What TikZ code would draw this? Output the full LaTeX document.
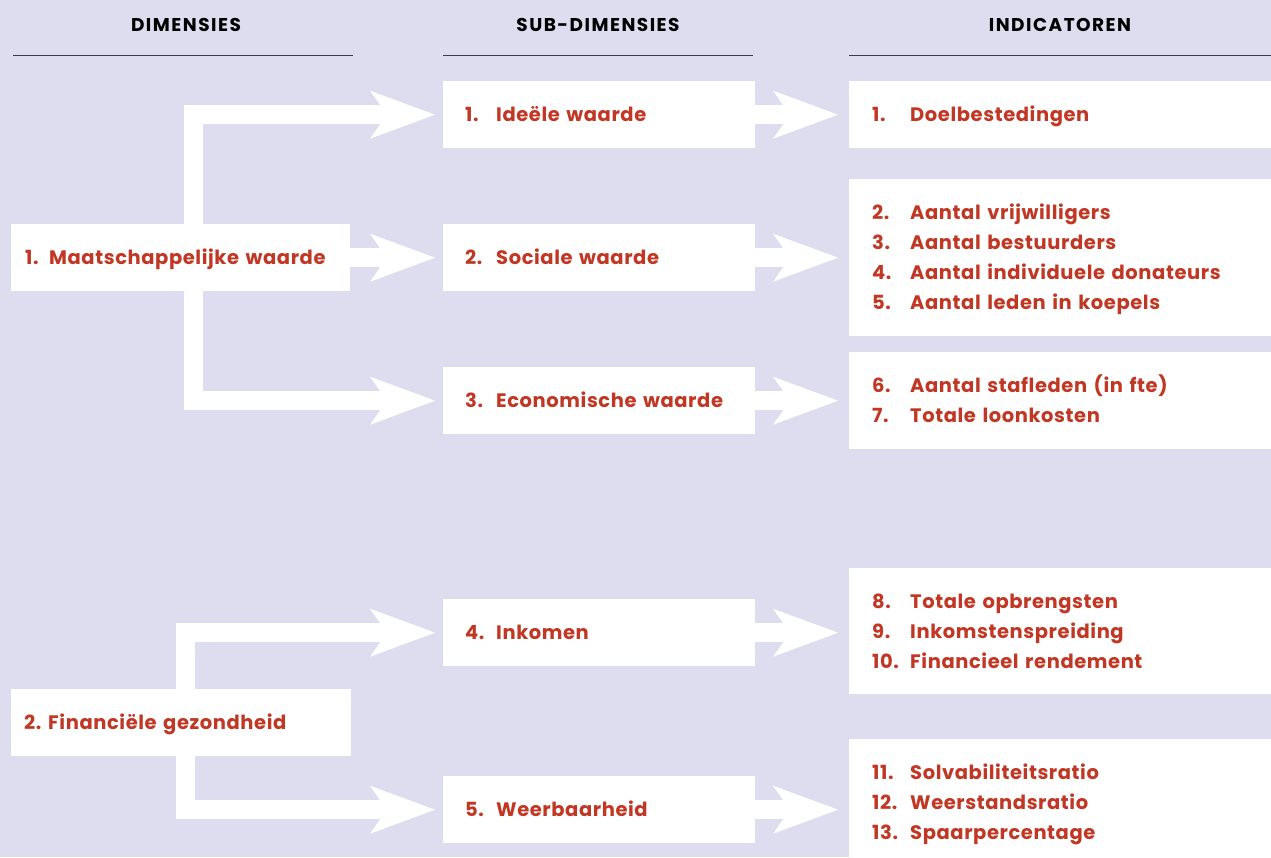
\documentclass[tikz,border=0pt]{standalone}
\usepackage{fontspec}
\setmainfont{Poppins}[LetterSpace=3]
\usetikzlibrary{arrows.meta}
\definecolor{bgc}{RGB}{222,221,240}
\definecolor{txt}{RGB}{193,55,35}
\definecolor{rule}{RGB}{60,60,70}
\pgfdeclarelayer{bg}
\pgfsetlayers{bg,main}
\newcommand\itm[3]{\raisebox{0pt}[14pt][0pt]{\makebox[#1][l]{#2}#3}}
\tikzset{
  box/.style={fill=white, anchor=north west, align=left, text=txt, inner ysep=0pt,
    font=\bfseries\fontsize{19.5}{30}\selectfont},
  dimbox/.style={box, inner xsep=14pt, text width=311pt, minimum height=67pt},
  subbox/.style={box, inner xsep=22pt, text width=268pt, minimum height=67pt},
  indbox/.style={box, inner xsep=23pt, text width=386pt},
  head/.style={font=\bfseries\fontsize{18.5}{20}\selectfont\addfontfeatures{LetterSpace=8}, text=black, anchor=center},
  hrule/.style={draw=rule, line width=1pt},
  fat/.style={draw=white, line width=19pt, line join=miter,
    -{Stealth[length=65pt,width=48pt,inset=17pt,line width=0pt]}},
}
\begin{document}
\begin{tikzpicture}[x=1pt,y=-1pt]
\useasboundingbox (0,0) rectangle (1271,857);
\begin{pgfonlayer}{bg}
\fill[bgc] (0,0) rectangle (1271,857);
\end{pgfonlayer}
% headers
\node[head] (h1) at (186,25) {DIMENSIES};
\node[head] (h2) at (598,25) {SUB-DIMENSIES};
\node[head] (h3) at (1060,25) {INDICATOREN};
\coordinate (l1a) at (13,55); \coordinate (l1b) at (353,55);
\coordinate (l2a) at (443,55); \coordinate (l2b) at (753,55);
\coordinate (l3a) at (849,55); \coordinate (l3b) at (1271,55);
\draw[hrule] (l1a) -- (l1b);
\draw[hrule] (l2a) -- (l2b);
\draw[hrule] (l3a) -- (l3b);
% dimension boxes
\node[dimbox] (d1) at (11,224) {\itm{24pt}{1.}{Maatschappelijke waarde}};
\node[dimbox, inner xsep=13pt, text width=314pt] (d2) at (11,689) {\itm{24pt}{2.}{Financiële gezondheid}};
% sub-dimension boxes
\node[subbox] (s1) at (443,81) {\itm{31pt}{1.}{Ideële waarde}};
\node[subbox] (s2) at (443,224) {\itm{31pt}{2.}{Sociale waarde}};
\node[subbox] (s3) at (443,367) {\itm{31pt}{3.}{Economische waarde}};
\node[subbox] (s4) at (443,599) {\itm{31pt}{4.}{Inkomen}};
\node[subbox] (s5) at (443,776) {\itm{31pt}{5.}{Weerbaarheid}};
% indicator boxes
\node[indbox, minimum height=67pt] (i1) at (849,81) {\itm{38pt}{1.}{Doelbestedingen}};
\node[indbox, minimum height=157pt] (i2) at (849,179) {\itm{38pt}{2.}{Aantal vrijwilligers}\\\itm{38pt}{3.}{Aantal bestuurders}\\\itm{38pt}{4.}{Aantal individuele donateurs}\\\itm{38pt}{5.}{Aantal leden in koepels}};
\node[indbox, minimum height=97pt] (i3) at (849,352) {\itm{38pt}{6.}{Aantal stafleden (in fte)}\\\itm{38pt}{7.}{Totale loonkosten}};
\node[indbox, minimum height=126pt] (i4) at (849,568) {\itm{38pt}{8.}{Totale opbrengsten}\\\itm{38pt}{9.}{Inkomstenspreiding}\\\itm{38pt}{10.}{Financieel rendement}};
\node[indbox, minimum height=127pt] (i5) at (849,739) {\itm{38pt}{11.}{Solvabiliteitsratio}\\\itm{38pt}{12.}{Weerstandsratio}\\\itm{38pt}{13.}{Spaarpercentage}};
% arrows
\coordinate (t1) at (193.5,257);
\coordinate (t2) at (185.5,722);
\begin{pgfonlayer}{bg}
\draw[fat, shorten >=8pt] (t1) |- (s1.west);
\draw[fat, shorten >=8pt] (d1.east) -- (s2.west);
\draw[fat, shorten >=8pt] (t1) |- (s3.west);
\draw[fat, shorten >=8pt] (t2) |- (s4.west);
\draw[fat, shorten >=8pt] (t2) |- (s5.west);
\draw[fat, shorten >=11pt] (s1.east) -- (s1.east -| i1.west);
\draw[fat, shorten >=11pt] (s2.east) -- (s2.east -| i2.west);
\draw[fat, shorten >=11pt] (s3.east) -- (s3.east -| i3.west);
\draw[fat, shorten >=11pt] (s4.east) -- (s4.east -| i4.west);
\draw[fat, shorten >=11pt] (s5.east) -- (s5.east -| i5.west);
\end{pgfonlayer}
\end{tikzpicture}
\end{document}
